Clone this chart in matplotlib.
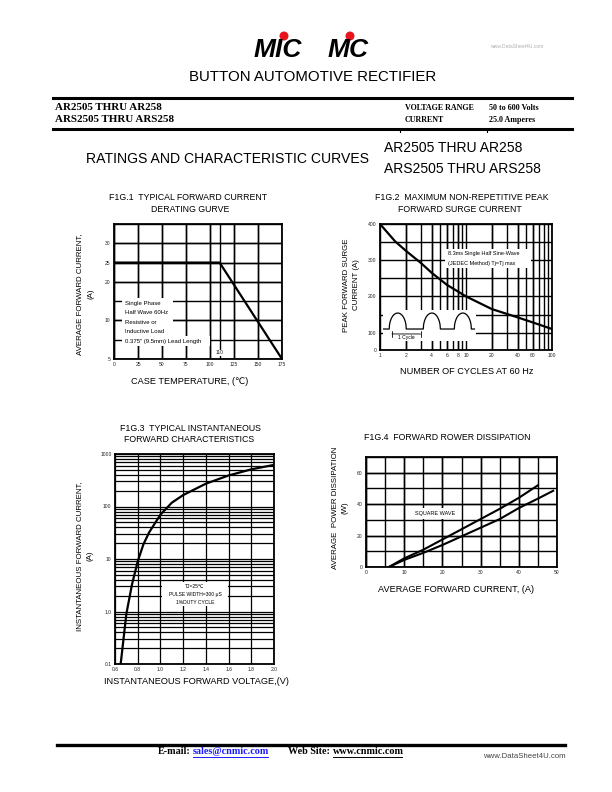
import matplotlib
matplotlib.use('Agg')
import matplotlib.pyplot as plt
import numpy as np
from matplotlib.patches import Rectangle, Circle
from matplotlib.ticker import NullFormatter

SANS = ['Liberation Sans', 'DejaVu Sans']
SERIF = ['Liberation Serif', 'DejaVu Serif']

# ---------------- data ----------------
# Fig.1 derating curve
fig1_temp = [0, 110, 175]
fig1_current = [25, 25, 0]
fig1_xticks = [0, 25, 50, 75, 100, 125, 150, 175]
fig1_ytick_pos = [0, 10, 20, 25, 30]
fig1_ytick_labels = ['5', '10', '20', '25', '30']
fig1_legend = ['Single Phase', 'Half Wave 60Hz', 'Resistive or',
               'Inductive Load', '0.375\u2033 (9.5mm) Lead Length']

# Fig.2 surge current
fig2_cycles = [1, 1.5, 2, 3, 4, 6, 10, 20, 40, 60, 100]
fig2_surge = [400, 352, 326, 292, 265, 232, 200, 165, 142, 128, 110]
fig2_xticks = [1, 2, 4, 6, 8, 10, 20, 40, 60, 100]
fig2_ytick_pos = [52, 100, 200, 300, 400]
fig2_ytick_labels = ['0', '100', '200', '300', '400']
fig2_note = ['8.3ms Single Half Sine-Wave', '(JEDEC Method) Tj=Tj max']

# Fig.3 forward characteristics
fig3_voltage = [0.65, 0.70, 0.75, 0.80, 0.85, 0.90, 1.0, 1.1, 1.2, 1.4, 1.6, 1.8, 2.0]
fig3_current = [0.1, 0.9, 3.3, 9, 19, 32, 70, 118, 165, 272, 390, 510, 620]
fig3_xticks = [0.6, 0.8, 1.0, 1.2, 1.4, 1.6, 1.8, 2.0]
fig3_xtick_labels = ['0.6', '0.8', '1.0', '1.2', '1.4', '1.6', '1.8', '2.0']
fig3_yticks = [0.1, 1, 10, 100, 1000]
fig3_ytick_labels = ['0.1', '1.0', '10', '100', '1000']
fig3_note = ['TJ=25\u2103', 'PULSE WIDTH=300 \u03bcS', '1%DUTY CYCLE']

# Fig.4 power dissipation
fig4_upper_x = [6, 10, 15, 20, 25, 30, 35, 40, 45]
fig4_upper_y = [0, 5.5, 11, 17.5, 24, 30.5, 37, 44, 52]
fig4_lower_x = [6, 10, 15, 20, 25, 30, 35, 40, 45, 49]
fig4_lower_y = [0, 4.5, 9, 14, 19.5, 25, 30.5, 37.5, 43.5, 48.5]
fig4_xticks = [0, 10, 20, 30, 40, 50]
fig4_yticks = [0, 20, 40, 60]

# ---------------- page ----------------
W, H = 612, 792
fig = plt.figure(figsize=(6.12, 7.92), dpi=100)
fig.patch.set_facecolor('white')

page = fig.add_axes([0, 0, 1, 1])
page.set_xlim(0, W)
page.set_ylim(H, 0)
page.axis('off')


def T(x, y, s, size, family=SANS, **kw):
    kw.setdefault('va', 'center')
    return fig.text(x / W, 1 - y / H, s, fontsize=size, family=family, **kw)


def box(x0, y0, x1, y1):
    fig.patches.append(Rectangle((x0 / W, 1 - y1 / H), (x1 - x0) / W, (y1 - y0) / H,
                                 transform=fig.transFigure, facecolor='white',
                                 edgecolor='none', zorder=2))


def axes_px(l, t, r, b):
    return fig.add_axes([l / W, 1 - b / H, (r - l) / W, (b - t) / H])


def style(ax, glw=1.0):
    ax.xaxis.remove_overlapping_locs = False
    ax.yaxis.remove_overlapping_locs = False
    ax.grid(which='both', color='black', lw=glw)
    for s in ax.spines.values():
        s.set_linewidth(1.3)
        s.set_color('black')
    ax.tick_params(which='both', length=0, labelsize=3.6, pad=2.5, colors='#222222')
    ax.set_axisbelow(True)
    for lab in ax.get_xticklabels() + ax.get_yticklabels():
        lab.set_family(SANS)


# logo
page.text(278, 50, 'MIC', fontsize=19, fontweight='heavy', fontstyle='italic',
          family=SANS, ha='center', va='center', color='black')
page.text(348, 50, 'MC', fontsize=19, fontweight='heavy', fontstyle='italic',
          family=SANS, ha='center', va='center', color='black')
page.add_patch(Circle((284, 36), 3.8, color='#e8141b'))
page.add_patch(Circle((350, 36), 3.8, color='#e8141b'))
T(517, 46, 'www.DataSheet4U.com', 3.6, color='#b0b0b0', ha='center')

T(313, 77, 'BUTTON AUTOMOTIVE RECTIFIER', 10.8, ha='center')

# header block
page.plot([53, 572], [98, 98], color='black', lw=2.2)
page.plot([53, 572], [129, 129], color='black', lw=2.2)
page.plot([400, 400], [129, 132], color='black', lw=0.8)
page.plot([487, 487], [129, 132], color='black', lw=0.8)
T(55, 108, 'AR2505 THRU AR258', 7.9, family=SERIF, fontweight='bold')
T(55, 120, 'ARS2505 THRU ARS258', 7.9, family=SERIF, fontweight='bold')
T(405, 108, 'VOLTAGE RANGE', 5.8, family=SERIF, fontweight='bold')
T(405, 120, 'CURRENT', 5.8, family=SERIF, fontweight='bold')
T(489, 108, '50 to 600 Volts', 5.8, family=SERIF, fontweight='bold')
T(489, 120, '25.0 Amperes', 5.8, family=SERIF, fontweight='bold')

T(86, 159, 'RATINGS AND CHARACTERISTIC CURVES', 10.1)
T(384, 148, 'AR2505 THRU AR258', 10)
T(384, 169, 'ARS2505 THRU ARS258', 10)

# ---------------- Fig.1 ----------------
ax1 = axes_px(114, 224, 282, 359)
ax1.plot(fig1_temp, fig1_current, color='black', lw=1.6, zorder=3)
ax1.set_xlim(0, 175)
ax1.set_ylim(0, 35)
ax1.set_xticks(fig1_xticks)
ax1.set_yticks(fig1_ytick_pos, fig1_ytick_labels)
ax1.set_xticks([0, 25, 50, 75, 100, 110, 125, 150, 175], minor=True)
ax1.set_yticks(np.arange(0, 36, 5), minor=True)
style(ax1)
ax1.text(110, 1.6, '110', fontsize=3.6, family=SANS, ha='center', va='center',
         color='#222222', bbox=dict(facecolor='white', edgecolor='none', pad=0.3))
T(188, 198, 'F1G.1  TYPICAL FORWARD CURRENT', 6.3, ha='center')
T(190, 209, 'DERATING GURVE', 6.3, ha='center')
T(80, 294, 'AVERAGE FORWARD CURRENT,', 5.7, ha='center', rotation=90)
T(91, 294, '(A)', 5.7, ha='center', rotation=90)
T(190, 381, 'CASE TEMPERATURE, (\u2103)', 6.6, ha='center')
box(122, 298, 173, 336)
box(122, 336, 210, 346)
for i, line in enumerate(fig1_legend):
    T(125, 303 + i * 9.5, line, 4.3, zorder=3)

# ---------------- Fig.2 ----------------
ax2 = axes_px(380, 224, 552, 350)
ax2.set_xscale('log')
ax2.plot(fig2_cycles, fig2_surge, color='black', lw=1.6, zorder=3)
ax2.set_xlim(1, 100)
ax2.set_ylim(52, 400)
ax2.set_xticks(fig2_xticks, [str(v) for v in fig2_xticks])
minor_x = [m * d for d in (1, 10) for m in range(2, 10)]
ax2.set_xticks(minor_x, minor=True)
ax2.xaxis.set_minor_formatter(NullFormatter())
ax2.set_yticks(fig2_ytick_pos, fig2_ytick_labels)
ax2.set_yticks(np.arange(100, 401, 50), minor=True)
style(ax2)
ax2.yaxis.grid(False, which='major')
ax2.yaxis.grid(True, which='minor', color='black', lw=1.0)
T(462, 198, 'F1G.2  MAXIMUM NON-REPETITIVE PEAK', 6.3, ha='center')
T(460, 209, 'FORWARD SURGE CURRENT', 6.3, ha='center')
T(347, 285, 'PEAK FORWARD SURGE', 5.7, ha='center', rotation=90)
T(356, 285, 'CURRENT (A)', 5.7, ha='center', rotation=90)
T(467, 371, 'NUMBER OF CYCLES AT 60 Hz', 6.6, ha='center')
box(445, 249, 531, 268)
T(448, 254, fig2_note[0], 4.0, zorder=3)
T(448, 263, fig2_note[1], 4.0, zorder=3)

# half sine-wave schematic
wave = axes_px(383, 310, 476, 341)
wave.set_facecolor('white')
wave.set_xlim(0, 3.0)
wave.set_ylim(-0.75, 1.19)
for s in wave.spines.values():
    s.set_visible(False)
wave.set_xticks([])
wave.set_yticks([])
wave_starts = [0.2, 1.3, 2.3]
wave_width = 0.55
bx, by = [0.0], [0.0]
for s in wave_starts:
    tt = np.linspace(s, s + wave_width, 60)
    yy = np.sqrt(np.clip(1 - ((tt - (s + wave_width / 2)) / (wave_width / 2)) ** 2, 0, 1))
    bx += [s] + list(tt) + [s + wave_width]
    by += [0] + list(yy) + [0]
bx.append(2.95)
by.append(0)
wave.plot(bx, by, color='black', lw=0.9)
wave.annotate('', xy=(wave_starts[0], -0.31), xytext=(wave_starts[1], -0.31),
              arrowprops=dict(arrowstyle='|-|', lw=0.6, mutation_scale=2))
wave.text((wave_starts[0] + wave_starts[1]) / 2, -0.52, '1 Cycle', fontsize=3.6,
          family=SANS, ha='center', va='center')

# ---------------- Fig.3 ----------------
ax3 = axes_px(115, 454, 274, 664)
ax3.set_yscale('log')
ax3.plot(fig3_voltage, fig3_current, color='black', lw=1.6, zorder=3)
ax3.set_xlim(0.6, 2.0)
ax3.set_ylim(0.1, 1000)
ax3.set_xticks(fig3_xticks, fig3_xtick_labels)
ax3.set_yticks(fig3_yticks, fig3_ytick_labels)
minor_y = [m * d for d in (0.1, 1, 10, 100) for m in range(2, 10)]
ax3.set_yticks(minor_y, minor=True)
ax3.yaxis.set_minor_formatter(NullFormatter())
style(ax3, glw=0.9)
T(190, 428, 'F1G.3  TYPICAL INSTANTANEOUS', 6.3, ha='center')
T(189, 439, 'FORWARD CHARACTERISTICS', 6.3, ha='center')
T(80, 556, 'INSTANTANEOUS FORWARD CURRENT,', 5.7, ha='center', rotation=90)
T(90, 556, '(A)', 5.7, ha='center', rotation=90)
T(196, 682, 'INSTANTANEOUS FORWARD VOLTAGE,(V)', 6.6, ha='center')
box(162, 582, 228, 606)
for i, line in enumerate(fig3_note):
    T(195, 587 + i * 7.5, line, 3.6, ha='center', zorder=3)

# ---------------- Fig.4 ----------------
ax4 = axes_px(366, 457, 557, 567)
ax4.plot(fig4_upper_x, fig4_upper_y, color='black', lw=1.5, zorder=3)
ax4.plot(fig4_lower_x, fig4_lower_y, color='black', lw=1.5, zorder=3)
ax4.set_xlim(0, 50)
ax4.set_ylim(0, 70)
ax4.set_xticks(fig4_xticks)
ax4.set_yticks(fig4_yticks)
ax4.set_xticks(np.arange(0, 51, 5), minor=True)
ax4.set_yticks(np.arange(0, 71, 10), minor=True)
style(ax4)
T(447, 438, 'F1G.4  FORWARD ROWER DISSIPATION', 6.3, ha='center')
T(335, 508, 'AVERAGE  POWER DISSIPATION', 5.7, ha='center', rotation=90)
T(345, 508, '(W)', 5.7, ha='center', rotation=90)
T(456, 590, 'AVERAGE FORWARD CURRENT, (A)', 6.6, ha='center')
box(414, 508, 457, 519)
T(435, 513, 'SQUARE WAVE', 4.0, ha='center', zorder=3)

# ---------------- footer ----------------
page.plot([57, 565], [745, 745], color='black', lw=2.4)
T(158, 752, 'E-mail:', 7.3, family=SERIF, fontweight='bold')
T(193, 752, 'sales@cnmic.com', 7.3, family=SERIF, fontweight='bold', color='#1a1aff')
page.plot([193, 268], [757, 757], color='#1a1aff', lw=0.7)
T(288, 752, 'Web Site:', 7.3, family=SERIF, fontweight='bold')
T(333, 752, 'www.cnmic.com', 7.3, family=SERIF, fontweight='bold')
page.plot([333, 402], [757, 757], color='black', lw=0.7)
T(483, 756, 'www.DataSheet4U.com', 5.6, color='#444444')

fig.savefig('out.png', dpi=100, facecolor='white')
